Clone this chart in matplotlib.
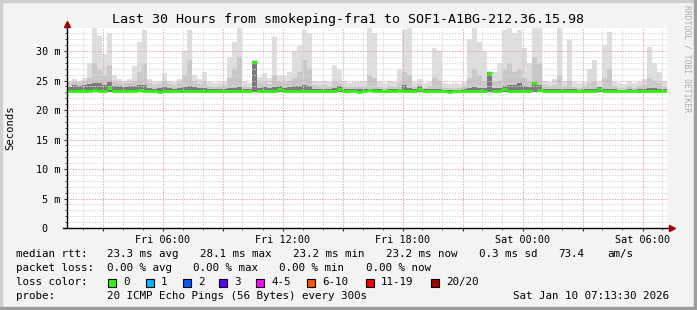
import numpy as np
import matplotlib.pyplot as plt
from matplotlib.patches import Rectangle

# smoke / median data, one value per 15 minute bin (hours since Fri 01:13:30)
bin_hours = np.arange(120) * 0.25

smoke_max = [25.0, 25.3, 25.0, 25.4, 28.0, 33.9, 32.5, 29.5, 33.0, 26.0,
             25.2, 25.0, 25.3, 27.5, 31.5, 33.6, 25.2, 24.8, 25.0, 26.2,
             25.0, 24.8, 25.2, 30.0, 33.6, 26.0, 25.2, 26.4, 24.8, 24.6,
             24.8, 25.0, 29.0, 31.5, 33.9, 24.8, 24.6, 28.4, 25.6, 26.2,
             25.5, 32.4, 26.0, 25.8, 26.5, 30.0, 31.0, 33.5, 33.0, 25.0,
             24.8, 25.0, 24.8, 27.6, 27.0, 25.0, 24.6, 24.7, 24.8, 25.0,
             33.9, 33.0, 24.8, 24.6, 25.0, 24.8, 27.0, 33.5, 33.9, 24.8,
             25.3, 24.6, 24.8, 30.5, 30.0, 24.6, 24.4, 24.6, 24.4, 24.8,
             32.0, 33.9, 31.5, 30.0, 26.6, 26.5, 28.0, 33.5, 33.9, 33.0,
             33.5, 30.5, 28.0, 33.9, 33.9, 25.0, 24.8, 25.2, 33.9, 25.0,
             31.9, 24.8, 24.6, 24.8, 27.0, 28.5, 24.8, 31.0, 33.2, 25.0,
             24.6, 24.4, 24.8, 24.6, 24.8, 25.2, 30.7, 28.0, 26.4, 25.0]

smoke_mid = [24.6, 24.8, 24.6, 24.9, 25.5, 28.0, 27.0, 26.0, 27.5, 24.8,
             24.6, 24.5, 24.6, 25.0, 26.5, 28.0, 24.5, 24.2, 24.4, 25.0,
             24.4, 24.2, 24.5, 26.0, 28.5, 24.8, 24.4, 24.8, 24.0, 23.9,
             24.0, 24.2, 25.5, 27.0, 29.0, 24.0, 23.9, 28.2, 24.6, 24.8,
             24.4, 26.0, 24.8, 24.6, 24.9, 25.5, 26.5, 28.5, 27.0, 24.2,
             24.0, 24.2, 24.0, 24.8, 24.6, 24.1, 23.9, 23.9, 24.0, 24.1,
             26.0, 25.5, 23.9, 23.8, 24.0, 23.9, 24.5, 26.5, 26.0, 23.9,
             24.4, 23.8, 24.0, 25.5, 25.0, 23.8, 23.7, 23.8, 23.7, 24.0,
             25.5, 27.0, 26.0, 25.0, 26.5, 24.8, 25.0, 27.0, 28.0, 26.5,
             27.0, 25.5, 25.0, 29.0, 28.0, 24.2, 24.0, 24.2, 26.0, 24.0,
             25.0, 23.9, 23.8, 24.0, 24.5, 25.0, 23.9, 25.5, 27.0, 24.0,
             23.8, 23.7, 24.0, 23.8, 24.0, 24.3, 25.5, 24.8, 24.6, 24.0]

smoke_dark = [23.9, 24.2, 24.0, 24.3, 24.4, 24.5, 24.6, 24.3, 24.8, 24.0,
              24.0, 23.9, 24.1, 24.0, 24.2, 24.3, 23.8, 23.6, 23.7, 23.9,
              23.7, 23.6, 23.8, 23.9, 24.0, 23.9, 23.7, 23.8, 23.5, 23.5,
              23.5, 23.6, 23.7, 23.8, 23.9, 23.5, 23.5, 28.3, 23.8, 23.9,
              23.7, 23.9, 24.0, 23.8, 23.9, 24.0, 24.1, 24.2, 24.0, 23.6,
              23.5, 23.6, 23.5, 23.8, 24.0, 23.6, 23.5, 23.5, 23.5, 23.5,
              23.6, 23.6, 23.5, 23.4, 23.5, 23.5, 23.6, 24.3, 23.7, 23.5,
              24.0, 23.5, 23.5, 23.6, 23.6, 23.4, 23.4, 23.4, 23.4, 23.5,
              23.8, 23.9, 23.8, 23.7, 26.5, 23.8, 23.8, 24.0, 24.2, 24.3,
              24.6, 24.0, 23.9, 24.8, 24.3, 23.6, 23.5, 23.6, 23.6, 23.5,
              23.6, 23.5, 23.4, 23.5, 23.6, 23.6, 23.9, 23.6, 23.6, 23.5,
              23.4, 23.4, 23.5, 23.4, 23.5, 23.6, 23.7, 23.8, 23.6, 23.5]

median_rtt = [23.2, 23.3, 23.2, 23.3, 23.3, 23.4, 23.3, 23.3, 23.7, 23.3,
              23.3, 23.2, 23.3, 23.3, 23.4, 23.3, 23.2, 23.2, 23.1, 23.2,
              23.2, 23.3, 23.2, 23.2, 23.3, 23.3, 23.2, 23.2, 23.2, 23.3,
              23.2, 23.2, 23.3, 23.2, 23.3, 23.2, 23.2, 28.1, 23.3, 23.3,
              23.2, 23.3, 23.5, 23.3, 23.3, 23.2, 23.3, 23.3, 23.2, 23.2,
              23.2, 23.3, 23.2, 23.3, 23.5, 23.2, 23.2, 23.2, 23.1, 23.2,
              23.4, 23.2, 23.2, 23.3, 23.2, 23.2, 23.4, 23.3, 23.3, 23.2,
              23.6, 23.2, 23.2, 23.3, 23.2, 23.2, 23.1, 23.2, 23.2, 23.2,
              23.2, 23.3, 23.2, 23.2, 26.3, 23.3, 23.2, 23.5, 23.3, 23.3,
              23.3, 23.3, 23.2, 24.5, 23.4, 23.2, 23.2, 23.3, 23.2, 23.2,
              23.3, 23.2, 23.2, 23.2, 23.3, 23.2, 23.6, 23.2, 23.3, 23.2,
              23.2, 23.2, 23.3, 23.2, 23.2, 23.3, 23.3, 23.2, 23.2, 23.2]

# axis ticks
y_ticks = [0, 5, 10, 15, 20, 25, 30]
y_labels = ['0  ', '5 m', '10 m', '15 m', '20 m', '25 m', '30 m']
grid_hours = [1.775, 4.775, 7.775, 10.775, 13.775, 16.775, 19.775, 22.775, 25.775, 28.775]
grid_labels = ['', 'Fri 06:00', '', 'Fri 12:00', '', 'Fri 18:00', '', 'Sat 00:00', '', 'Sat 06:00']

# legend
loss_labels = ['0', '1', '2', '3', '4-5', '6-10', '11-19', '20/20']
loss_colors = ['#26ff00', '#00b8ff', '#0059ff', '#5e00ff', '#ff00ff', '#ff5500', '#ff0000', '#a10000']

W, H = 697, 310
mono = 'DejaVu Sans Mono'

fig = plt.figure(figsize=(W / 100, H / 100), dpi=100)
fig.patch.set_facecolor('#f3f3f3')
ax = fig.add_axes([67 / W, 1 - 228 / H, 600 / W, 200 / H])
ax.set_facecolor('white')

base = 23.0
mx = np.array(smoke_max)
md = np.array(smoke_mid)
dk = np.array(smoke_dark)
ax.bar(bin_hours, mx - base, bottom=base, width=0.25, align='edge', color='#dedede', linewidth=0, zorder=1)
ax.bar(bin_hours, md - base, bottom=base, width=0.25, align='edge', color='#c8c8c8', linewidth=0, zorder=1.1)
ax.bar(bin_hours, dk - base, bottom=base, width=0.25, align='edge', color='#7a7a7a', linewidth=0, zorder=1.2)
ax.hlines(median_rtt, bin_hours, bin_hours + 0.25, color='#26ff00', linewidth=2.0, zorder=3)

ax.set_xlim(0, 30)
ax.set_ylim(0, 33.9)

ax.set_yticks(y_ticks)
ax.set_yticklabels(y_labels, fontfamily=mono, fontsize=7.3)
ax.set_yticks(np.arange(0, 34, 1), minor=True)
ax.set_xticks(grid_hours)
ax.set_xticklabels(grid_labels, fontfamily=mono, fontsize=7.3)
ax.set_xticks(np.arange(0.775, 30, 1), minor=True)
ax.tick_params(which='major', length=2.5, width=0.8, color='#333333', pad=2.5)
ax.tick_params(which='minor', length=1.5, width=0.6, color='#333333')

ax.grid(which='minor', color='#d8d8d8', linestyle=(0, (1.3, 1.3)), linewidth=0.75)
ax.grid(which='major', color='#eaa4a4', linestyle=(0, (1.3, 1.3)), linewidth=0.75)
ax.set_axisbelow(False)

for s in ['top', 'right', 'left', 'bottom']:
    ax.spines[s].set_visible(False)
# axis lines with arrows
ax.plot([-0.2, 30.25], [0, 0], color='black', linewidth=1, clip_on=False, zorder=4)
ax.plot([0, 0], [0, 34.6], color='black', linewidth=1, clip_on=False, zorder=4)
ax.plot([30.25], [0], marker='>', color='#a10000', markersize=4, clip_on=False, zorder=5)
ax.plot([0], [34.6], marker='^', color='#a10000', markersize=4, clip_on=False, zorder=5)

fig.text(348 / W, 1 - 19 / H, 'Last 30 Hours from smokeping-fra1 to SOF1-A1BG-212.36.15.98',
         fontfamily=mono, fontsize=9.6, ha='center', va='center')
fig.text(10 / W, 1 - 128 / H, 'Seconds', rotation=90, fontfamily=mono, fontsize=7.6,
         ha='center', va='center')
fig.text(687 / W, 1 - 59 / H, 'RRDTOOL / TOBI OETIKER', rotation=270, fontfamily=mono,
         fontsize=5.8, color='#aaaaaa', ha='center', va='center')

fs = 7.8
def put(x, y, s):
    fig.text(x / W, 1 - y / H, s, fontfamily=mono, fontsize=fs, ha='left', va='center')

put(16, 254, 'median rtt:')
put(107, 254, '23.3 ms avg')
put(200, 254, '28.1 ms max')
put(293, 254, '23.2 ms min')
put(386, 254, '23.2 ms now')
put(479, 254, '0.3 ms sd')
put(558, 254, '73.4')
put(607, 254, 'am/s')

put(16, 268, 'packet loss:')
put(107, 268, '0.00 % avg')
put(193, 268, '0.00 % max')
put(279, 268, '0.00 % min')
put(366, 268, '0.00 % now')

put(16, 282, 'loss color:')
box_x = [108, 146, 183, 219, 256, 307, 366, 431]
for bx, lab, col in zip(box_x, loss_labels, loss_colors):
    fig.add_artist(Rectangle((bx / W, 1 - 287 / H), 8 / W, 8 / H, facecolor=col,
                             edgecolor='black', linewidth=0.8, transform=fig.transFigure))
    put(bx + 15, 282, lab)

put(16, 296, 'probe:')
put(107, 296, '20 ICMP Echo Pings (56 Bytes) every 300s')
put(513, 296, 'Sat Jan 10 07:13:30 2026')

# 3d frame
fig.add_artist(Rectangle((0, 1 - 2 / H), 1, 2 / H, color='#cfcfcf', transform=fig.transFigure))
fig.add_artist(Rectangle((0, 0), 2 / W, 1, color='#cfcfcf', transform=fig.transFigure))
fig.add_artist(Rectangle((1 - 3 / W, 0), 3 / W, 1, color='#9e9e9e', transform=fig.transFigure))
fig.add_artist(Rectangle((0, 0), 1, 3 / H, color='#9e9e9e', transform=fig.transFigure))

plt.savefig('out.png', dpi=100, facecolor=fig.get_facecolor())
